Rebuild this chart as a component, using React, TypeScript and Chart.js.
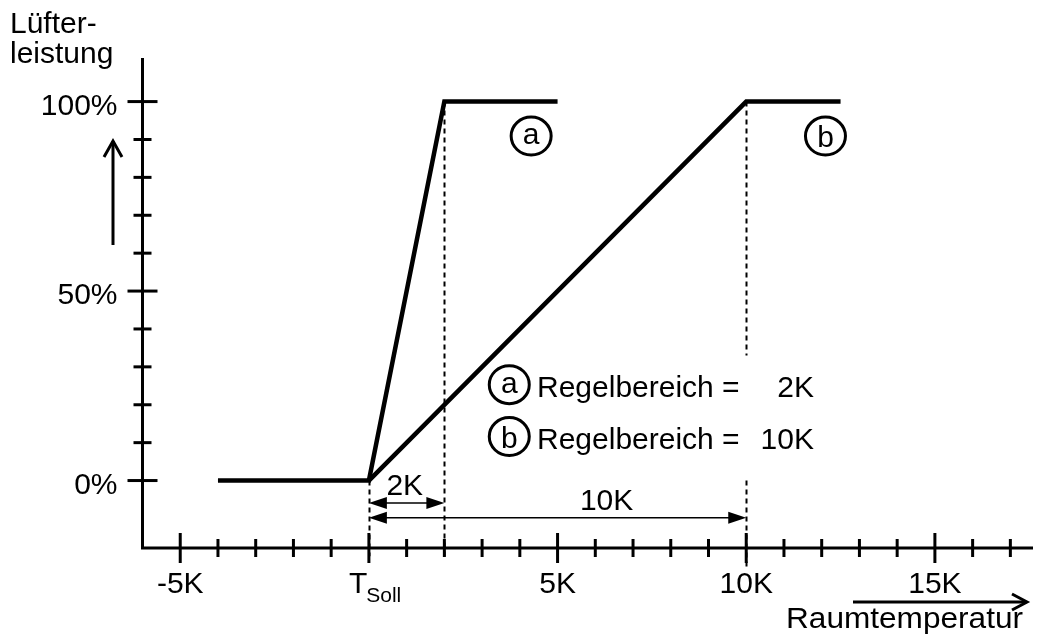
import React, { useEffect, useRef } from "react";
import { Chart, registerables } from "chart.js";

Chart.register(...registerables);

// Curve (a): Regelbereich 2K
const curveAX = [-4, 0, 2, 5];
const curveAY = [0, 0, 100, 100];
// Curve (b): Regelbereich 10K
const curveBX = [0, 10, 12.5];
const curveBY = [0, 100, 100];

// Axis ticks
const xTickValues = [-5, -4, -3, -2, -1, 0, 1, 2, 3, 4, 5, 6, 7, 8, 9, 10, 11, 12, 13, 14, 15, 16, 17];
const xLabelValues = [-5, 5, 10, 15];
const xLabelTexts = ["-5K", "5K", "10K", "15K"];
const yTickValues = [0, 10, 20, 30, 40, 50, 60, 70, 80, 90, 100];
const yLabelValues = [0, 50, 100];
const yLabelTexts = ["0%", "50%", "100%"];

// Annotations
const dimArrowEnds = [2, 10];
const dimArrowY = [-5.9, -9.8];
const dimArrowLabels = ["2K", "10K"];
const dimArrowLabelX = [0.95, 6.3];
const markerLetters = ["a", "b"];
const markerX = [4.3, 12.1];
const markerY = [90.9, 90.9];
const legendX = 3.72;
const legendY = [25.3, 11.6];
const legendTexts = ["Regelbereich =", "Regelbereich ="];
const legendValues = ["2K", "10K"];

const FONT = '"Liberation Sans", Arial, sans-serif';

function arrowHeadFilled(ctx: CanvasRenderingContext2D, x: number, y: number, dir: number) {
  ctx.beginPath();
  ctx.moveTo(x, y);
  ctx.lineTo(x - dir * 18, y - 6);
  ctx.lineTo(x - dir * 18, y + 6);
  ctx.closePath();
  ctx.fill();
}

const decoPlugin = {
  id: "deco",
  beforeDatasetsDraw(chart: any) {
    const ctx: CanvasRenderingContext2D = chart.ctx;
    const xs = chart.scales.x;
    const ys = chart.scales.y;
    ctx.save();
    ctx.strokeStyle = "#000";
    ctx.lineWidth = 2;
    ctx.setLineDash([5, 4]);
    const seg = (xv: number, y1: number, y2: number) => {
      const px = Math.round(xs.getPixelForValue(xv)) + 0.5;
      ctx.beginPath();
      ctx.moveTo(px, ys.getPixelForValue(y1));
      ctx.lineTo(px, ys.getPixelForValue(y2));
      ctx.stroke();
    };
    seg(0, 0, -20);
    seg(2, 100, -20);
    seg(10, 100, 33);
    seg(10, 0, -23.5);
    ctx.restore();
  },
  afterDatasetsDraw(chart: any) {
    const ctx: CanvasRenderingContext2D = chart.ctx;
    const xs = chart.scales.x;
    const ys = chart.scales.y;
    const { left, right, top, bottom } = chart.chartArea;
    ctx.save();
    ctx.strokeStyle = "#000";
    ctx.fillStyle = "#000";
    ctx.setLineDash([]);

    // axes
    ctx.lineWidth = 3;
    ctx.lineJoin = "miter";
    ctx.beginPath();
    ctx.moveTo(left, top);
    ctx.lineTo(left, bottom);
    ctx.lineTo(right, bottom);
    ctx.stroke();

    // x ticks
    xTickValues.forEach((v) => {
      const px = xs.getPixelForValue(v);
      const len = v % 5 === 0 ? 15 : 9;
      ctx.beginPath();
      ctx.moveTo(px, bottom - len);
      ctx.lineTo(px, bottom + len);
      ctx.stroke();
    });
    // y ticks
    yTickValues.forEach((v) => {
      const py = ys.getPixelForValue(v);
      const len = v % 50 === 0 ? 15 : 9;
      ctx.beginPath();
      ctx.moveTo(left - len, py);
      ctx.lineTo(left + len, py);
      ctx.stroke();
    });

    // tick labels
    ctx.font = `30px ${FONT}`;
    ctx.textAlign = "center";
    ctx.textBaseline = "alphabetic";
    xLabelValues.forEach((v, i) => {
      ctx.fillText(xLabelTexts[i], xs.getPixelForValue(v), bottom + 45);
    });
    // T_Soll
    const x0 = xs.getPixelForValue(0);
    ctx.textAlign = "left";
    ctx.fillText("T", x0 - 20, bottom + 45);
    const tw = ctx.measureText("T").width;
    ctx.font = `21px ${FONT}`;
    ctx.fillText("Soll", x0 - 20 + tw - 1, bottom + 54);

    ctx.font = `30px ${FONT}`;
    ctx.textAlign = "right";
    yLabelValues.forEach((v, i) => {
      ctx.fillText(yLabelTexts[i], left - 25, ys.getPixelForValue(v) + 13);
    });

    // axis titles
    ctx.textAlign = "left";
    ctx.fillText("Lüfter-", 10, 33);
    ctx.fillText("leistung", 10, 63);
    // stretched x title
    const title = "Raumtemperatur";
    const w = ctx.measureText(title).width;
    const sx = 237 / w;
    ctx.save();
    ctx.translate(786, 628);
    ctx.scale(sx, 1);
    ctx.textAlign = "left";
    ctx.fillText(title, 0, 0);
    ctx.restore();

    // y direction arrow
    ctx.lineWidth = 3;
    ctx.beginPath();
    ctx.moveTo(113, 245);
    ctx.lineTo(113, 141);
    ctx.stroke();
    ctx.beginPath();
    ctx.moveTo(104, 157);
    ctx.lineTo(113, 141);
    ctx.lineTo(122, 157);
    ctx.stroke();
    // x direction arrow
    ctx.beginPath();
    ctx.moveTo(853, 602);
    ctx.lineTo(1026, 602);
    ctx.stroke();
    ctx.beginPath();
    ctx.moveTo(1012, 594);
    ctx.lineTo(1027, 602);
    ctx.lineTo(1012, 610);
    ctx.stroke();

    // dimension arrows
    ctx.lineWidth = 1.5;
    ctx.textAlign = "center";
    dimArrowEnds.forEach((xe, i) => {
      const py = ys.getPixelForValue(dimArrowY[i]);
      const pa = xs.getPixelForValue(0);
      const pb = xs.getPixelForValue(xe);
      ctx.beginPath();
      ctx.moveTo(pa + 10, py);
      ctx.lineTo(pb - 10, py);
      ctx.stroke();
      arrowHeadFilled(ctx, pa, py, -1);
      arrowHeadFilled(ctx, pb, py, 1);
      ctx.fillText(dimArrowLabels[i], xs.getPixelForValue(dimArrowLabelX[i]), py - 8);
    });

    // circled letters
    const circled = (cx: number, cy: number, letter: string) => {
      ctx.lineWidth = 3;
      ctx.beginPath();
      ctx.ellipse(cx, cy, 20, 19, 0, 0, Math.PI * 2);
      ctx.stroke();
      ctx.font = `30px ${FONT}`;
      ctx.textAlign = "center";
      ctx.textBaseline = "alphabetic";
      ctx.fillText(letter, cx, cy + (letter === "b" ? 11 : 8));
    };
    markerLetters.forEach((l, i) => {
      circled(xs.getPixelForValue(markerX[i]), ys.getPixelForValue(markerY[i]), l);
    });

    // legend
    markerLetters.forEach((l, i) => {
      const py = ys.getPixelForValue(legendY[i]);
      circled(xs.getPixelForValue(legendX), py, l);
      ctx.font = `30px ${FONT}`;
      ctx.textAlign = "left";
      ctx.fillText(legendTexts[i], 537, py + 12);
      ctx.textAlign = "right";
      ctx.fillText(legendValues[i], 814, py + 12);
    });

    ctx.restore();
  },
};

export default function App() {
  const ref = useRef<HTMLCanvasElement>(null);
  useEffect(() => {
    if (!ref.current) return;
    const mk = (xa: number[], ya: number[]) => xa.map((x, i) => ({ x, y: ya[i] }));
    const chart = new Chart(ref.current, {
      type: "line",
      data: {
        datasets: [
          {
            data: mk(curveAX, curveAY),
            borderColor: "#000",
            borderWidth: 4.5,
            pointRadius: 0,
            borderJoinStyle: "miter",
            borderCapStyle: "butt",
            tension: 0,
            fill: false,
          },
          {
            data: mk(curveBX, curveBY),
            borderColor: "#000",
            borderWidth: 4.5,
            pointRadius: 0,
            borderJoinStyle: "miter",
            borderCapStyle: "butt",
            tension: 0,
            fill: false,
          },
        ],
      },
      options: {
        animation: false,
        responsive: false,
        maintainAspectRatio: false,
        clip: false as any,
        layout: { padding: { left: 142.5, right: 8, top: 58, bottom: 91 } },
        plugins: { legend: { display: false }, tooltip: { enabled: false } },
        scales: {
          x: { type: "linear", min: -6, max: 17.6, display: false },
          y: { type: "linear", min: -17.8, max: 111.5, display: false },
        },
      },
      plugins: [decoPlugin],
    });
    return () => chart.destroy();
  }, []);
  return (
    <div style={{ position: "fixed", left: 0, top: 0, width: 1041, height: 639, background: "#fff" }}>
      <canvas ref={ref} width={1041} height={639} />
    </div>
  );
}
